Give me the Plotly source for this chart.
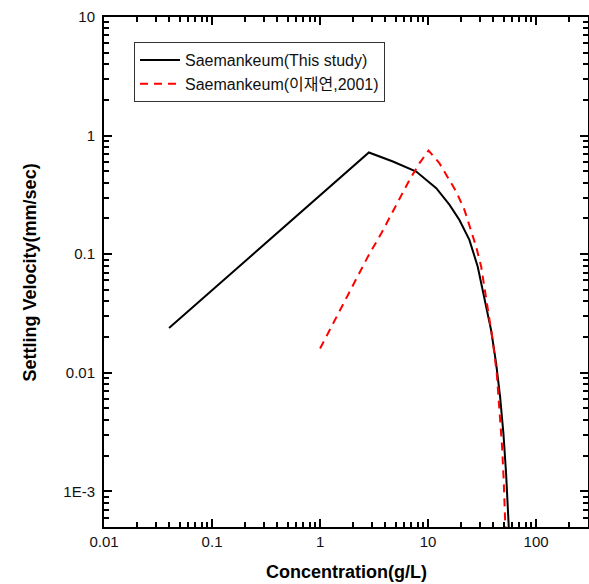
import plotly.graph_objects as go

# Black: Saemankeum (This study)
conc_this = [0.04, 2.83, 4.72, 7.76, 11.9, 15.8, 19.5, 24.1, 28.8, 33.2, 38.3, 42.6,
             46.4, 49.8, 52.7, 55.7, 56.0]
vel_this = [0.0238, 0.720, 0.604, 0.497, 0.360, 0.260, 0.194, 0.132, 0.0784, 0.0410,
            0.0229, 0.0120, 0.00626, 0.00307, 0.00141, 0.000516, 0.00045]

# Red dashed: Saemankeum (이재연, 2001)
conc_lee = [1.0, 2.77, 3.69, 4.72, 5.64, 6.73, 8.33, 10.1, 12.7, 14.7, 18.2, 21.7, 25.0,
            27.8, 31.0, 32.1, 35.6, 39.6, 43.2, 45.7, 48.4, 50.1, 51.9, 52.1]
vel_lee = [0.0160, 0.0953, 0.150, 0.229, 0.316, 0.423, 0.586, 0.748, 0.586, 0.467, 0.337,
           0.236, 0.160, 0.116, 0.0784, 0.0646, 0.0360, 0.0188, 0.00986, 0.00515,
           0.00237, 0.00124, 0.000516, 0.00045]

x_ticks = [0.01, 0.1, 1, 10, 100]
x_ticktext = ["0.01", "0.1", "1", "10", "100"]
y_ticks = [0.001, 0.01, 0.1, 1, 10]
y_ticktext = ["1E-3", "0.01", "0.1", "1", "10"]

x_minor = [m * 10.0 ** e for e in range(-2, 3) for m in range(2, 10)]
y_minor = [m * 10.0 ** e for e in range(-4, 1) for m in range(2, 10)]

x_title = "Concentration(g/L)"
y_title = "Settling Velocity(mm/sec)"

FONT = "Arial, 'Liberation Sans', 'Noto Sans CJK KR', sans-serif"

fig = go.Figure()
fig.add_trace(go.Scatter(x=conc_this, y=vel_this, mode="lines",
                         name="Saemankeum(This study)",
                         line=dict(color="black", width=2)))
fig.add_trace(go.Scatter(x=conc_lee, y=vel_lee, mode="lines",
                         name="Saemankeum(이재연,2001)",
                         line=dict(color="#ff0000", width=2, dash="8px,6px")))

axis_common = dict(
    type="log", showgrid=False, zeroline=False, automargin=False,
    showline=True, linecolor="black", linewidth=2, mirror="allticks",
    ticks="inside", ticklen=8, tickwidth=1.5, tickcolor="black",
    tickfont=dict(family=FONT, size=15, color="#111"),
)

fig.update_xaxes(
    **axis_common,
    range=[-2, 2.48],
    tickmode="array", tickvals=x_ticks, ticktext=x_ticktext,
    minor=dict(ticks="inside", ticklen=5, tickwidth=1.5, tickcolor="black",
               tickmode="array", tickvals=x_minor, showgrid=False),
)
fig.update_yaxes(
    **axis_common,
    range=[-3.301, 1],
    tickmode="array", tickvals=y_ticks, ticktext=y_ticktext,
    ticklabelstandoff=4,
    minor=dict(ticks="inside", ticklen=5, tickwidth=1.5, tickcolor="black",
               tickmode="array", tickvals=y_minor, showgrid=False),
)

fig.add_annotation(text="<b>" + x_title + "</b>", xref="paper", yref="paper",
                   x=0.502, y=-0.088, xanchor="center", yanchor="middle", showarrow=False,
                   font=dict(family=FONT, size=18, color="black"))
fig.add_annotation(text="<b>" + y_title + "</b>", xref="paper", yref="paper",
                   x=-0.152, y=0.5, xanchor="center", yanchor="middle", showarrow=False,
                   textangle=-90, font=dict(family=FONT, size=18, color="black"))

fig.update_layout(
    width=589, height=584,
    margin=dict(l=104, r=1, t=17, b=57),
    paper_bgcolor="white", plot_bgcolor="white",
    font=dict(family=FONT, color="black"),
    showlegend=True,
    legend=dict(x=0.062, y=0.951, xanchor="left", yanchor="top",
                bgcolor="white", bordercolor="#333", borderwidth=1,
                font=dict(family=FONT, size=16, color="#111"),
                tracegroupgap=0, itemwidth=40),
)

fig.write_html("out.html", config={"displayModeBar": False},
               post_script="document.body.style.margin='0';")
